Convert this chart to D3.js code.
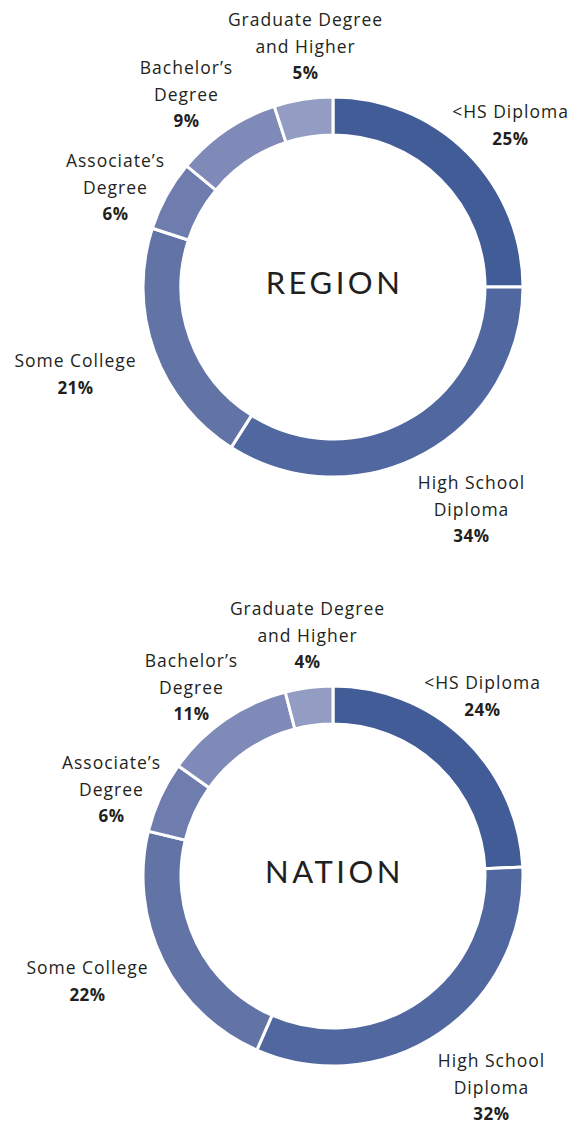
<!DOCTYPE html>
<html>
<head>
<meta charset="utf-8">
<script src="https://cdn.jsdelivr.net/npm/d3@7"></script>
<style>
  html, body { margin: 0; padding: 0; background: #ffffff; }
  svg { display: block; }
</style>
</head>
<body>
<svg id="chart" width="571" height="1124"></svg>
<script>
// ---------- DATA ----------
const categories = ["<HS Diploma", "High School Diploma", "Some College", "Associate’s Degree", "Bachelor’s Degree", "Graduate Degree and Higher"];
const labelLines = [["<HS Diploma"], ["High School", "Diploma"], ["Some College"], ["Associate’s", "Degree"], ["Bachelor’s", "Degree"], ["Graduate Degree", "and Higher"]];
const regionValues = [25, 34, 21, 6, 9, 5];
const nationValues = [24, 32, 22, 6, 11, 4];
const chartTitles = ["REGION", "NATION"];

// ---------- LAYOUT / STYLE ----------
const colors = ["#425c97", "#5067a0", "#6273a6", "#6e7cae", "#7f8ab8", "#939cc3"];
const centers = [{x: 333, y: 287}, {x: 333, y: 876}];
const outerR = 190, innerR = 152;
const lineGap = 26.5;
// label anchor offsets relative to donut centre (x centre, first baseline)
const labelOffsets = [
  [[177, -169], [138, 202], [-258, 80], [-218, -120], [-147, -213], [-28, -261]],
  [[149, -187], [158, 191], [-246, 98], [-222, -107], [-142, -209], [-26, -261]]
];

const svg = d3.select("#chart");
const pie = d3.pie().sort(null).value(d => d).startAngle(0).endAngle(2 * Math.PI);
const arc = d3.arc().innerRadius(innerR).outerRadius(outerR);
const color = d3.scaleOrdinal().domain(categories).range(colors);

[regionValues, nationValues].forEach((vals, ci) => {
  const c = centers[ci];
  const g = svg.append("g").attr("transform", `translate(${c.x},${c.y})`);
  const arcs = pie(vals);

  g.selectAll("path.slice")
    .data(arcs)
    .join("path")
    .attr("class", "slice")
    .attr("d", arc)
    .attr("fill", (d, i) => color(categories[i]))
    .attr("stroke", "#ffffff")
    .attr("stroke-width", 3)
    .attr("stroke-linejoin", "miter");

  g.append("text")
    .attr("x", 1.5)
    .attr("y", 7)
    .attr("text-anchor", "middle")
    .attr("font-family", "Lato, 'Open Sans', sans-serif")
    .attr("font-size", 31)
    .attr("letter-spacing", 3.5)
    .attr("fill", "#231f20")
    .text(chartTitles[ci]);

  arcs.forEach((d, i) => {
    const off = labelOffsets[ci][i];
    const t = g.append("text")
      .attr("text-anchor", "middle")
      .attr("font-family", "'Open Sans', sans-serif")
      .attr("fill", "#231f20");
    labelLines[i].forEach((ln, k) => {
      t.append("tspan")
        .attr("x", off[0] + 0.5)
        .attr("y", off[1] + k * lineGap)
        .attr("font-size", 17.5)
        .attr("letter-spacing", 1)
        .text(ln);
    });
    t.append("tspan")
      .attr("x", off[0] + 0.5)
      .attr("y", off[1] + labelLines[i].length * lineGap)
      .attr("font-size", 17)
      .attr("font-weight", 700)
      .attr("letter-spacing", 0.5)
      .text(vals[i] + "%");
  });
});
</script>
</body>
</html>
